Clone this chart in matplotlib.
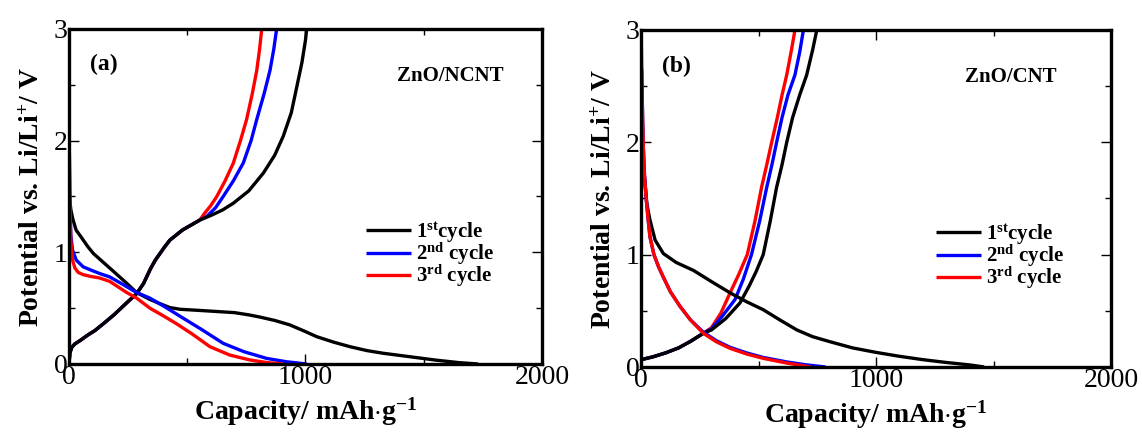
import numpy as np
import matplotlib
matplotlib.use('Agg')
import matplotlib.pyplot as plt
from matplotlib.ticker import AutoMinorLocator, MultipleLocator

plt.rcParams['font.family'] = 'Liberation Serif'
plt.rcParams['mathtext.fontset'] = 'custom'
plt.rcParams['mathtext.rm'] = 'Liberation Serif:bold'
plt.rcParams['mathtext.bf'] = 'Liberation Serif:bold'
plt.rcParams['mathtext.default'] = 'rm'

# ---- panel (a) ZnO/NCNT ----
a_dis1_x = [0, 3, 8, 16, 30, 47, 80, 103, 140, 172, 230, 286, 340, 385, 427, 470, 550, 625, 700, 760, 808, 870, 934, 1000, 1047, 1120, 1188, 1260, 1329, 1442, 1550, 1650, 1730]
a_dis1_y = [1.65, 1.47, 1.38, 1.30, 1.20, 1.15, 1.05, 0.99, 0.92, 0.86, 0.75, 0.64, 0.58, 0.54, 0.505, 0.49, 0.48, 0.47, 0.46, 0.44, 0.42, 0.39, 0.35, 0.29, 0.245, 0.195, 0.155, 0.12, 0.096, 0.065, 0.035, 0.012, 0.0]
a_dis2_x = [0, 2, 4, 8, 15, 31, 60, 94, 130, 172, 230, 286, 342, 407, 483, 560, 652, 740, 836, 920, 1005]
a_dis2_y = [2.2, 1.8, 1.4, 1.15, 1.02, 0.93, 0.87, 0.84, 0.81, 0.78, 0.71, 0.64, 0.59, 0.51, 0.41, 0.31, 0.185, 0.11, 0.05, 0.02, 0.0]
a_dis3_x = [0, 2, 4, 8, 15, 25, 39, 60, 90, 130, 172, 244, 286, 342, 400, 455, 520, 596, 680, 765, 840, 906]
a_dis3_y = [2.18, 1.8, 1.4, 1.1, 0.93, 0.86, 0.82, 0.80, 0.785, 0.77, 0.74, 0.64, 0.59, 0.50, 0.43, 0.36, 0.27, 0.155, 0.08, 0.036, 0.012, 0.0]

a_chg_x = [0, 4, 12, 25, 47, 80, 110, 145, 190, 235, 286, 315, 344, 365, 385, 405, 427, 480, 554]
a_chg_y = [0.0, 0.10, 0.15, 0.18, 0.21, 0.26, 0.30, 0.36, 0.44, 0.53, 0.63, 0.72, 0.85, 0.93, 0.99, 1.05, 1.11, 1.20, 1.29]
a_chg1_x = [600, 650, 695, 760, 822, 870, 906, 940, 963, 985, 1000, 1005]
a_chg1_y = [1.33, 1.38, 1.44, 1.55, 1.71, 1.87, 2.04, 2.25, 2.48, 2.70, 2.90, 3.0]
a_chg2_x = [582, 620, 652, 695, 737, 770, 794, 825, 850, 866, 878]
a_chg2_y = [1.32, 1.40, 1.50, 1.64, 1.80, 2.0, 2.19, 2.42, 2.63, 2.82, 3.0]
a_chg3_x = [570, 600, 625, 660, 695, 725, 751, 775, 794, 806, 815]
a_chg3_y = [1.34, 1.42, 1.50, 1.64, 1.80, 2.0, 2.19, 2.42, 2.63, 2.82, 3.0]

# ---- panel (b) ZnO/CNT ----
b_dis1_x = [5, 8, 12, 17, 25, 38, 60, 95, 150, 223, 300, 379, 450, 520, 590, 663, 730, 804, 900, 1000, 1100, 1200, 1300, 1400, 1460]
b_dis1_y = [2.25, 1.95, 1.75, 1.64, 1.45, 1.31, 1.13, 1.01, 0.93, 0.86, 0.76, 0.66, 0.58, 0.51, 0.42, 0.33, 0.27, 0.225, 0.17, 0.13, 0.095, 0.065, 0.04, 0.018, 0.0]
b_dis2_x = [3, 5, 7, 10, 15, 22, 30, 38, 55, 75, 95, 125, 166, 210, 265, 320, 379, 450, 520, 620, 700, 785]
b_dis2_y = [2.65, 2.45, 2.2, 1.95, 1.70, 1.50, 1.32, 1.16, 1.00, 0.89, 0.80, 0.67, 0.54, 0.42, 0.31, 0.235, 0.175, 0.125, 0.085, 0.045, 0.02, 0.0]
b_dis3_x = [0, 2, 4, 7, 10, 15, 22, 30, 38, 55, 75, 95, 125, 166, 210, 265, 320, 379, 450, 520, 620, 723]
b_dis3_y = [3.0, 2.8, 2.5, 2.2, 1.95, 1.70, 1.50, 1.32, 1.16, 1.00, 0.89, 0.80, 0.67, 0.54, 0.42, 0.30, 0.225, 0.166, 0.115, 0.077, 0.035, 0.0]

b_chg_x = [0, 50, 104, 160, 212, 265]
b_chg_y = [0.065, 0.09, 0.125, 0.17, 0.23, 0.30]
b_chg1_x = [300, 360, 421, 460, 490, 520, 550, 577, 600, 620, 645, 675, 705, 730, 748]
b_chg1_y = [0.33, 0.43, 0.57, 0.72, 0.85, 1.0, 1.30, 1.60, 1.80, 2.0, 2.22, 2.42, 2.6, 2.82, 3.0]
b_chg2_x = [300, 345, 400, 435, 470, 505, 535, 557, 577, 600, 625, 655, 675, 691]
b_chg2_y = [0.34, 0.45, 0.60, 0.78, 1.0, 1.30, 1.60, 1.80, 2.0, 2.22, 2.42, 2.6, 2.80, 3.0]
b_chg3_x = [300, 340, 379, 415, 452, 485, 513, 535, 556, 580, 600, 620, 640, 655]
b_chg3_y = [0.35, 0.48, 0.66, 0.82, 1.0, 1.30, 1.60, 1.80, 2.0, 2.22, 2.42, 2.6, 2.82, 3.0]

labels = [r'1$^{\mathrm{st}}$cycle', r'2$^{\mathrm{nd}}$ cycle', r'3$^{\mathrm{rd}}$ cycle']
colors = ['black', '#0000ff', '#ff0000']

fig = plt.figure(figsize=(11.42, 4.34), dpi=100)
ax1 = fig.add_axes([0.0604, 0.1613, 0.4142, 0.7719])
ax2 = fig.add_axes([0.5613, 0.1544, 0.4116, 0.7765])

panels = [
    (ax1, '(a)', 'ZnO/NCNT', 0.919,
     [(a_dis1_x, a_dis1_y), (a_dis2_x, a_dis2_y), (a_dis3_x, a_dis3_y)],
     (a_chg_x, a_chg_y),
     [(a_chg1_x, a_chg1_y), (a_chg2_x, a_chg2_y), (a_chg3_x, a_chg3_y)]),
    (ax2, '(b)', 'ZnO/CNT', 0.884,
     [(b_dis1_x, b_dis1_y), (b_dis2_x, b_dis2_y), (b_dis3_x, b_dis3_y)],
     (b_chg_x, b_chg_y),
     [(b_chg1_x, b_chg1_y), (b_chg2_x, b_chg2_y), (b_chg3_x, b_chg3_y)]),
]

lw = 2.4
for ax, tag, name, name_x, dis, chg0, chg in panels:
    # charge curves: shared start joined to each cycle's tail
    for i in [2, 1, 0]:
        cx = list(chg0[0]) + list(chg[i][0])
        cy = list(chg0[1]) + list(chg[i][1])
        ax.plot(cx, cy, color=colors[i], lw=lw, solid_capstyle='butt')
    for i in [0, 1, 2]:
        ax.plot(dis[i][0], dis[i][1], color=colors[i], lw=lw, label=labels[i],
                solid_capstyle='butt')

    ax.set_xlim(0, 2000)
    ax.set_ylim(0, 3)
    ax.xaxis.set_major_locator(MultipleLocator(1000))
    ax.yaxis.set_major_locator(MultipleLocator(1))
    ax.xaxis.set_minor_locator(AutoMinorLocator(2))
    ax.yaxis.set_minor_locator(AutoMinorLocator(2))
    ax.tick_params(which='both', direction='in', top=True, right=True,
                   labelsize=20, width=1.0, pad=1)
    ax.tick_params(which='major', length=7)
    ax.tick_params(which='minor', length=4)
    for s in ax.spines.values():
        s.set_linewidth(2.4)

    ax.set_xlabel(r'Capacity/ mAh$\cdot$g$^{\mathrm{-1}}$', fontsize=20,
                  fontweight='bold', labelpad=4)
    ax.set_ylabel(r'Potential vs. Li/Li$^{+}$/ V', fontsize=20,
                  fontweight='bold', labelpad=6)

    ax.text(0.044, 0.893, tag, transform=ax.transAxes, fontsize=17,
            fontweight='bold', va='center', ha='left')
    ax.text(name_x, 0.86, name, transform=ax.transAxes, fontsize=15,
            fontweight='bold', va='center', ha='right')

    leg = ax.legend(loc='upper left', bbox_to_anchor=(0.628, 0.43),
                    frameon=False, fontsize=15, handlelength=2.15,
                    handletextpad=0.25, labelspacing=-0.2, borderpad=0.0,
                    borderaxespad=0.0)
    for t in leg.get_texts():
        t.set_fontweight('bold')

fig.savefig('out.png', dpi=100)
